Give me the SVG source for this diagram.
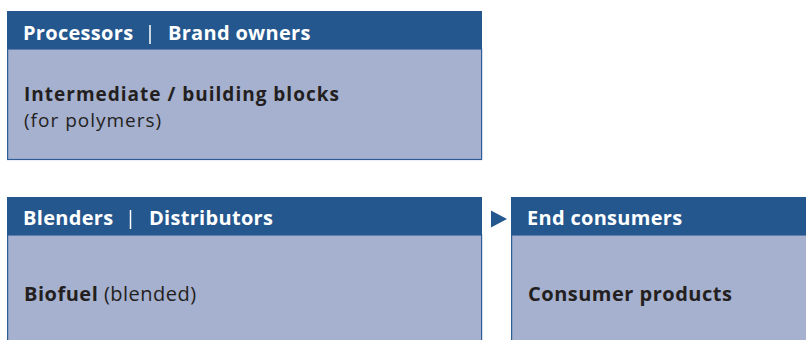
<svg xmlns="http://www.w3.org/2000/svg" width="806" height="340" viewBox="0 0 806 340">
<style>
.hd{fill:#24578e}
.bd{fill:#a6b0cf;stroke:#2f5c96;stroke-width:1.2}
.ht{font-family:"Open Sans",sans-serif;font-weight:700;font-size:20px;letter-spacing:0.3px;fill:#ffffff}
.bt{font-family:"Open Sans",sans-serif;font-weight:700;font-size:20px;letter-spacing:0.5px;fill:#231f20}
.nt{font-family:"Open Sans",sans-serif;font-weight:400;font-size:20px;letter-spacing:0.5px;fill:#231f20}
.sm{font-size:19px;letter-spacing:1px}
.sep{stroke:#ffffff;stroke-width:1.5}
</style>
<rect width="806" height="340" fill="#ffffff"/>
<g id="processors">
<rect class="bd" x="7.6" y="49" width="474" height="110.5"/>
<rect class="hd" x="7" y="11" width="475" height="38"/>
<text class="ht" x="23" y="40">Processors</text>
<line class="sep" x1="150" y1="25" x2="150" y2="44"/>
<text class="ht" x="168" y="40">Brand owners</text>
<text class="bt sm" x="24" y="101">Intermediate / building blocks</text>
<text class="nt sm" x="24" y="127">(for polymers)</text>
</g>
<g id="blenders">
<rect class="bd" x="7.6" y="235" width="474" height="110"/>
<rect class="hd" x="7" y="197" width="475" height="38"/>
<text class="ht" x="23" y="225">Blenders</text>
<line class="sep" x1="130.5" y1="210" x2="130.5" y2="229"/>
<text class="ht" x="149" y="225">Distributors</text>
<text x="24" y="301"><tspan class="bt">Biofuel</tspan><tspan class="nt"> (blended)</tspan></text>
</g>
<g id="consumers">
<rect class="bd" x="511.6" y="235" width="300" height="110"/>
<rect class="hd" x="511" y="197" width="300" height="38"/>
<text class="ht" x="527" y="225">End consumers</text>
<text class="bt" x="528" y="301">Consumer products</text>
</g>
<g id="connectors">
<polygon points="491,210.5 507,219 491,227.5" fill="#24578e"/>
</g>
</svg>
